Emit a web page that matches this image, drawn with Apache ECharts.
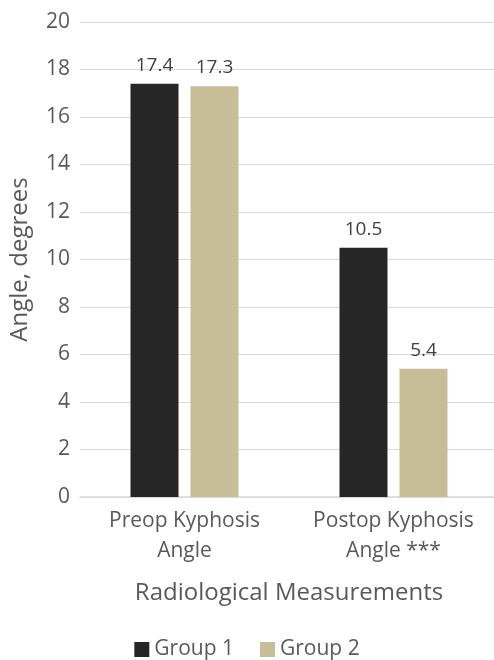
<!DOCTYPE html>
<html lang="en">
<head>
  <meta charset="utf-8">
  <title>Radiological Measurements</title>
  <script src="https://cdn.jsdelivr.net/npm/echarts@6/dist/echarts.min.js"></script>
  <style>
    html, body { margin: 0; padding: 0; background: #fff; }
    #chart { width: 494px; height: 660px; }
  </style>
</head>
<body>
<div id="chart"></div>
<script>
  var categories = ['Preop Kyphosis\nAngle', 'Postop Kyphosis\nAngle ***'];
  var group1 = [17.4, 10.5];
  var group2 = [17.3, 5.4];
  var seriesNames = ['Group 1', 'Group 2'];
  var colores = ['#262626', '#c7be97'];

  var chart = echarts.init(document.getElementById('chart'));
  var font = '"Open Sans", sans-serif';

  var option = {
    textStyle: { fontFamily: font },
    color: colores,
    legend: {
      bottom: -5,
      left: 'center',
      itemWidth: 15,
      itemHeight: 15,
      itemGap: 26,
      icon: 'rect',
      textStyle: { fontSize: 21, color: '#595959', fontFamily: font },
      data: seriesNames
    },
    grid: { left: 80, top: 22, width: 418, bottom: 163, containLabel: false, outerBoundsMode: 'none' },
    xAxis: {
      type: 'category',
      data: categories,
      name: 'Radiological Measurements',
      nameLocation: 'middle',
      nameGap: 84,
      nameTextStyle: { fontSize: 24, color: '#595959', fontFamily: font },
      axisTick: { show: false },
      axisLine: { lineStyle: { color: '#d9d9d9', width: 1.5 } },
      axisLabel: { interval: 0, hideOverlap: false, fontSize: 21, color: '#595959', lineHeight: 30, margin: 9, fontFamily: font }
    },
    yAxis: {
      type: 'value',
      min: 0,
      max: 20,
      interval: 2,
      name: 'Angle, degrees',
      nameLocation: 'middle',
      nameGap: 48,
      nameTextStyle: { fontSize: 24, color: '#595959', fontFamily: font },
      axisLabel: { fontSize: 21, color: '#595959', margin: 10, fontFamily: font },
      splitLine: { lineStyle: { color: '#d9d9d9', width: 1 } },
      axisLine: { show: false },
      axisTick: { show: false }
    },
    series: [
      {
        name: seriesNames[0],
        type: 'bar',
        data: group1,
        barWidth: 48,
        barGap: '25%',
        label: { show: true, position: 'top', distance: 9, fontSize: 19, color: '#404040', fontFamily: font }
      },
      {
        name: seriesNames[1],
        type: 'bar',
        data: group2,
        barWidth: 48,
        barGap: '25%',
        label: { show: true, position: 'top', distance: 9, fontSize: 19, color: '#404040', fontFamily: font }
      }
    ]
  };
  chart.setOption(option);
</script>
</body>
</html>
